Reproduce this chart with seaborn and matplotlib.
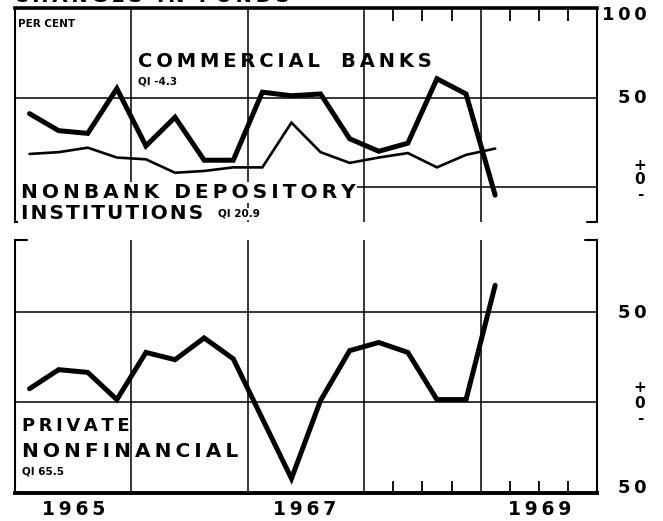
import numpy as np
import pandas as pd
import matplotlib
matplotlib.use("Agg")
import matplotlib.pyplot as plt
import seaborn as sns

# quarterly series, 1965Q1 - 1969Q1 (per cent, annual rates)
quarters = pd.period_range("1965Q1", "1969Q1", freq="Q")
commercial = [41, 31.5, 30, 55, 23, 39, 15, 15, 53, 51, 52, 27, 20, 24.5, 60.5, 52, -4.5]
nonbank = [18.5, 19.5, 22, 16.5, 15.5, 8, 9, 11, 11, 36, 19.5, 13.5, 16.5, 19, 11, 18, 21.5]
private = [7.5, 18, 16.5, 1.5, 27.5, 23.5, 35.5, 24, -9, -42, 1, 28.5, 33, 27.5, 1.5, 1.5, 64.5]

year_labels = ["1965", "1967", "1969"]
year_grid = [1966, 1967, 1968, 1969]

df = pd.DataFrame({
    "t": quarters.year + (quarters.quarter - 0.5) / 4,
    "commercial": commercial,
    "nonbank": nonbank,
    "private": private,
})

sns.set_style("white")
plt.rcParams["font.family"] = ["DejaVu Sans"]
plt.rcParams["font.weight"] = "bold"

W, H = 663, 521
fig = plt.figure(figsize=(W / 100, H / 100), dpi=100)

THIN = "\u2009"
HAIR = "\u200a"


def track(s, sep=THIN):
    return sep.join(s)


def ftext(x, y, s, size, target=None, **kw):
    # place text by pixel position (top-left origin)
    if target is None:
        return fig.text(x / W, 1 - y / H, s, fontsize=size, fontweight="bold",
                        color="black", **kw)
    return target.text(x / W, 1 - y / H, s, fontsize=size, fontweight="bold",
                       color="black", transform=fig.transFigure, clip_on=False,
                       zorder=4, **kw)


ax1 = fig.add_axes([15 / W, 1 - 222 / H, 582 / W, 214 / H])
ax2 = fig.add_axes([15 / W, 1 - 493 / H, 582 / W, 253 / H])

ax1.set_ylim(-19.5, 100)
ax2.set_ylim(-50, 89.5)

minor = [1968.25, 1968.5, 1968.75, 1969.25, 1969.5, 1969.75]
for ax in (ax1, ax2):
    ax.set_xlim(1965, 1970)
    ax.set_xticks(year_grid)
    ax.set_xticks(minor, minor=True)
    ax.set_yticks([])
    ax.grid(axis="x", color="black", lw=1.1)
    ax.tick_params(which="major", length=0, labelbottom=False, labelleft=False)
    for sp in ax.spines.values():
        sp.set_color("black")
        sp.set_linewidth(1.5)
        sp.set_zorder(6)

# top panel
ax1.axhline(50, color="black", lw=1.1, zorder=1)
ax1.axhline(0, xmin=0.2, color="black", lw=1.1, zorder=1)
sns.lineplot(data=df, x="t", y="commercial", ax=ax1, color="black", lw=3.6,
             solid_joinstyle="miter", zorder=3)
sns.lineplot(data=df, x="t", y="nonbank", ax=ax1, color="black", lw=1.9,
             solid_joinstyle="miter", zorder=3)
ax1.spines["bottom"].set_visible(False)
ax1.spines["top"].set_linewidth(2.6)
ax1.tick_params(which="minor", top=True, bottom=False, direction="in",
                length=9, width=1.3, color="black")
ax1.plot([0, 0.018], [0, 0], transform=ax1.transAxes, color="black", lw=1.5, clip_on=False)
ax1.plot([0.982, 1], [0, 0], transform=ax1.transAxes, color="black", lw=1.5, clip_on=False)

# bottom panel
ax2.axhline(50, color="black", lw=1.1, zorder=1)
ax2.axhline(0, color="black", lw=1.1, zorder=1)
sns.lineplot(data=df, x="t", y="private", ax=ax2, color="black", lw=3.6,
             solid_joinstyle="miter", zorder=3)
ax2.spines["top"].set_visible(False)
ax2.spines["bottom"].set_linewidth(2.8)
ax2.tick_params(which="minor", bottom=True, top=False, direction="in",
                length=9, width=1.3, color="black")
ax2.plot([0, 0.02], [1, 1], transform=ax2.transAxes, color="black", lw=1.5, clip_on=False)
ax2.plot([0.98, 1], [1, 1], transform=ax2.transAxes, color="black", lw=1.5, clip_on=False)

for ax in (ax1, ax2):
    ax.set_xlabel("")
    ax.set_ylabel("")

# clipped heading at the very top
ftext(14, 1.5, track("CHANGES IN FUNDS"), 14, va="baseline")

ftext(18, 27, "PER CENT", 7.5, va="baseline")
ftext(138, 67, track("COMMERCIAL") + THIN + " " + THIN + " " + track("BANKS"), 14,
      va="baseline")
ftext(138, 85, "QI -4.3", 7.5, va="baseline")

box = dict(facecolor="white", edgecolor="none", pad=1.0)
ftext(19, 198, HAIR + track("NONBANK") + THIN + " " + THIN + track("DEPOSITORY"), 14.5,
      target=ax1, va="baseline", bbox=box)
ftext(19, 219, HAIR + track("INSTITUTIONS", HAIR), 14.5, target=ax1, va="baseline", bbox=box)
ftext(218, 217, "QI 20.9", 7.5, target=ax1, va="baseline", bbox=box)

ftext(22, 431, track("PRIVATE"), 13, va="baseline")
ftext(22, 457, track("NONFINANCIAL"), 14.5, va="baseline")
ftext(22, 475, "QI 65.5", 7.5, va="baseline")

for lab, xc in zip(year_labels, [74, 305, 540]):
    ftext(xc, 515, track(lab), 13.5, va="baseline", ha="center")

# right-hand scale
ftext(624, 20, track("100"), 13, va="baseline", ha="center")
ftext(632, 103, track("50"), 13, va="baseline", ha="center")
ftext(640, 180, "+\n0\n-", 11, va="center", ha="center", linespacing=0.95)

ftext(632, 318, track("50"), 13, va="baseline", ha="center")
ftext(640, 403, "+\n0\n-", 11, va="center", ha="center", linespacing=1.0)
ftext(632, 493, track("50"), 13, va="baseline", ha="center")

fig.savefig("out.png", dpi=100, facecolor="white")
